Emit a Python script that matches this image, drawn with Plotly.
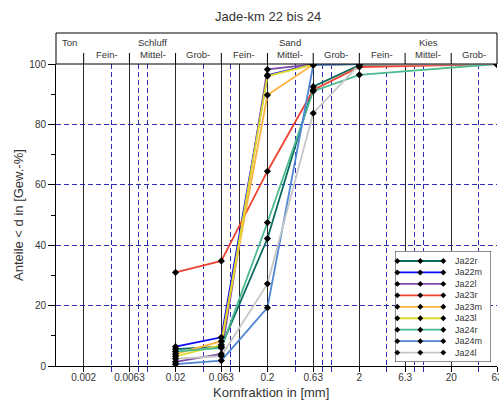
import math
import plotly.graph_objects as go

# Sieve sizes (mm) at which the passing fractions were measured
sieve_mm = [0.02, 0.063, 0.2, 0.63, 2, 63]

# Cumulative passing (Gew.-%) per sample
ja22r = [5.6, 6.4, 42.2, 92.5, 99.6, 100]
ja22m = [6.4, 9.5, 96.3, 99.9, 100, 100]
ja22l = [1.4, 4.0, 98.2, 99.9, 100, 100]
ja23r = [31.0, 34.8, 64.5, 91.4, 99.0, 100]
ja23m = [4.0, 8.2, 89.7, 99.8, 100, 100]
ja23l = [3.2, 7.0, 96.0, 99.8, 100, 100]
ja24r = [4.8, 6.0, 47.5, 91.0, 96.4, 100]
ja24m = [0.6, 1.8, 19.3, 99.6, 100, 100]
ja24l = [2.4, 3.3, 27.2, 83.7, 99.8, 100]

series_names = ["Ja22r", "Ja22m", "Ja22l", "Ja23r", "Ja23m", "Ja23l", "Ja24r", "Ja24m", "Ja24l"]
series_values = [ja22r, ja22m, ja22l, ja23r, ja23m, ja23l, ja24r, ja24m, ja24l]
series_colors = ["#0b6b5e", "#0a0af5", "#7d4ea6", "#ee4433", "#ffb33f",
                 "#dcdc2c", "#4cba8e", "#4f86d4", "#c6c6c6"]

# Axis labelling
x_label_vals = [0.002, 0.0063, 0.02, 0.063, 0.2, 0.63, 2, 6.3, 20, 63]
x_label_text = ["0.002", "0.0063", "0.02", "0.063", "0.2", "0.63", "2", "6.3", "20", "63"]
x_solid_extra = [0.1]
x_dashed_vals = [0.004, 0.008, 0.01, 0.04, 0.08, 0.4, 0.8, 1, 4, 8, 10, 40]
y_major = [0, 20, 40, 60, 80, 100]
y_minor = [10, 30, 50, 70, 90]

# Soil classification header (DIN 4022)
class_bounds = [0.002, 0.0063, 0.02, 0.063, 0.2, 0.63, 2, 6.3, 20, 63]
sub_names = ["Fein-", "Mittel-", "Grob-"]
# main group label sits over its "Mittel-" segment (index of segment start)
main_groups = [("Schluff", 1), ("Sand", 4), ("Kies", 7)]

W, H = 499, 400
ML, MR, MT, MB = 56, 2, 64, 34
PW, PH = W - ML - MR, H - MT - MB
TEXT = "#333333"
GRID_BLUE = "#2b2bb5"
FONT = "Arial, Liberation Sans, sans-serif"


def py(px_y):
    """pixel row -> paper y"""
    return (H - MB - px_y) / PH


def px(px_x):
    """pixel column -> paper x"""
    return (px_x - ML) / PW


def seg_center(i):
    return (math.log10(class_bounds[i]) + math.log10(class_bounds[i + 1])) / 2


fig = go.Figure()

# data lines first, markers afterwards so all markers sit on top
for name, vals, col in zip(series_names, series_values, series_colors):
    fig.add_trace(go.Scatter(x=sieve_mm, y=vals, mode="lines", name=name,
                             line=dict(color=col, width=1.8), showlegend=False,
                             hoverinfo="skip"))
for name, vals in zip(series_names, series_values):
    fig.add_trace(go.Scatter(x=sieve_mm, y=vals, mode="markers", name=name,
                             marker=dict(symbol="diamond", size=5.5, color="black"),
                             showlegend=False))

tick_vals = x_label_vals + x_solid_extra
tick_text = x_label_text + [""]

fig.update_xaxes(
    type="log", range=[-3, math.log10(63) + 1e-6], automargin=False,
    tickmode="array", tickvals=tick_vals, ticktext=tick_text,
    ticks="outside", ticklen=5, tickwidth=1, tickcolor="black",
    ticklabelstandoff=-3, ticklabeloverflow="allow",
    showgrid=True, gridcolor="#2a2a2a", gridwidth=1,
    minor=dict(tickmode="array", tickvals=x_dashed_vals, ticks="outside",
               ticklen=5, tickcolor=GRID_BLUE, showgrid=True,
               gridcolor=GRID_BLUE, griddash="5px,3px", gridwidth=1),
    showline=True, linecolor="black", linewidth=1, mirror=False,
    tickfont=dict(family=FONT, size=10, color=TEXT),
    zeroline=False, domain=[0, 1],
)
fig.update_yaxes(
    range=[0, 100], automargin=False, tickmode="array", tickvals=y_major,
    ticks="outside", ticklen=7, tickwidth=1, tickcolor="black",
    showgrid=True, gridcolor=GRID_BLUE, griddash="5px,3px", gridwidth=1,
    minor=dict(tickmode="array", tickvals=y_minor, ticks="outside",
               ticklen=4, tickcolor="black", showgrid=False),
    showline=True, linecolor="black", linewidth=1, mirror=False,
    tickfont=dict(family=FONT, size=10, color=TEXT),
    zeroline=False, domain=[0, 1],
)

shapes = []
annotations = []

# header box above the 100 % line
head_top = py(33)
shapes.append(dict(type="rect", xref="paper", yref="paper", x0=0, x1=1, y0=1, y1=head_top,
                   line=dict(color="black", width=1), fillcolor="rgba(0,0,0,0)", layer="above"))
div_top = py(53)
for b in class_bounds[:-1]:
    shapes.append(dict(type="line", xref="x", yref="paper", x0=b, x1=b, y0=1, y1=div_top,
                       line=dict(color="black", width=1)))

row1, row2 = py(43), py(55)
hfont = dict(family=FONT, size=9.5, color=TEXT)
annotations.append(dict(text="Ton", xref="paper", yref="paper", x=px(60), y=row1,
                        xanchor="left", yanchor="middle", showarrow=False, font=hfont))
for label, seg in main_groups:
    annotations.append(dict(text=label, xref="x", yref="paper", x=seg_center(seg), y=row1,
                            xanchor="center", yanchor="middle", showarrow=False, font=hfont))
for i in range(len(class_bounds) - 1):
    annotations.append(dict(text=sub_names[i % 3], xref="x", yref="paper", x=seg_center(i),
                            y=row2, xanchor="center", yanchor="middle", showarrow=False,
                            font=hfont))

# titles
annotations.append(dict(text="Jade-km 22 bis 24", xref="paper", yref="paper",
                        x=px(268), y=py(17), xanchor="center", yanchor="middle",
                        showarrow=False, font=dict(family=FONT, size=13, color=TEXT)))
annotations.append(dict(text="Kornfraktion in [mm]", xref="paper", yref="paper",
                        x=px(271), y=py(393), xanchor="center", yanchor="middle",
                        showarrow=False, font=dict(family=FONT, size=13, color=TEXT)))
annotations.append(dict(text="Anteile < d in [Gew.-%]", xref="paper", yref="paper",
                        x=px(18), y=py(215), xanchor="center", yanchor="middle",
                        textangle=-90, showarrow=False,
                        font=dict(family=FONT, size=13, color=TEXT)))

# legend panel, drawn in its own small subplot (units: pixels inside the box)
LX0, LX1, LY0, LY1 = 395, 491, 251, 362
box_w, box_h = LX1 - LX0, LY1 - LY0
fig.update_layout(
    xaxis2=dict(domain=[px(LX0), px(LX1)], range=[0, box_w], visible=False,
                fixedrange=True, anchor="y2", automargin=False),
    yaxis2=dict(domain=[py(LY1), py(LY0)], range=[box_h, 0], visible=False,
                fixedrange=True, anchor="x2", automargin=False),
)
fig.add_trace(go.Scatter(x=[0, box_w, box_w, 0, 0], y=[0, 0, box_h, box_h, 0],
                         xaxis="x2", yaxis="y2", mode="lines", fill="toself",
                         fillcolor="white", line=dict(color="#222", width=1),
                         cliponaxis=False, showlegend=False, hoverinfo="skip"))
row0, row_step = 10, 11.45
sample_x = [2.3, 25.3, 48.3]
for i, (name, col) in enumerate(zip(series_names, series_colors)):
    ry = row0 + i * row_step
    fig.add_trace(go.Scatter(x=sample_x, y=[ry] * 3, xaxis="x2", yaxis="y2",
                             mode="lines+markers", line=dict(color=col, width=1.8),
                             marker=dict(symbol="diamond", size=4.5, color="black"),
                             cliponaxis=False, showlegend=False, hoverinfo="skip"))
    annotations.append(dict(text=name, xref="x2", yref="y2", x=58, y=ry,
                            xanchor="left", yanchor="middle", showarrow=False,
                            font=dict(family=FONT, size=9, color=TEXT)))

fig.update_layout(
    width=W, height=H,
    margin=dict(l=ML, r=MR, t=MT, b=MB, pad=0, autoexpand=False),
    paper_bgcolor="white", plot_bgcolor="white",
    showlegend=False,
    shapes=shapes, annotations=annotations,
    font=dict(family=FONT, color=TEXT),
)

fig.write_html("out.html")
